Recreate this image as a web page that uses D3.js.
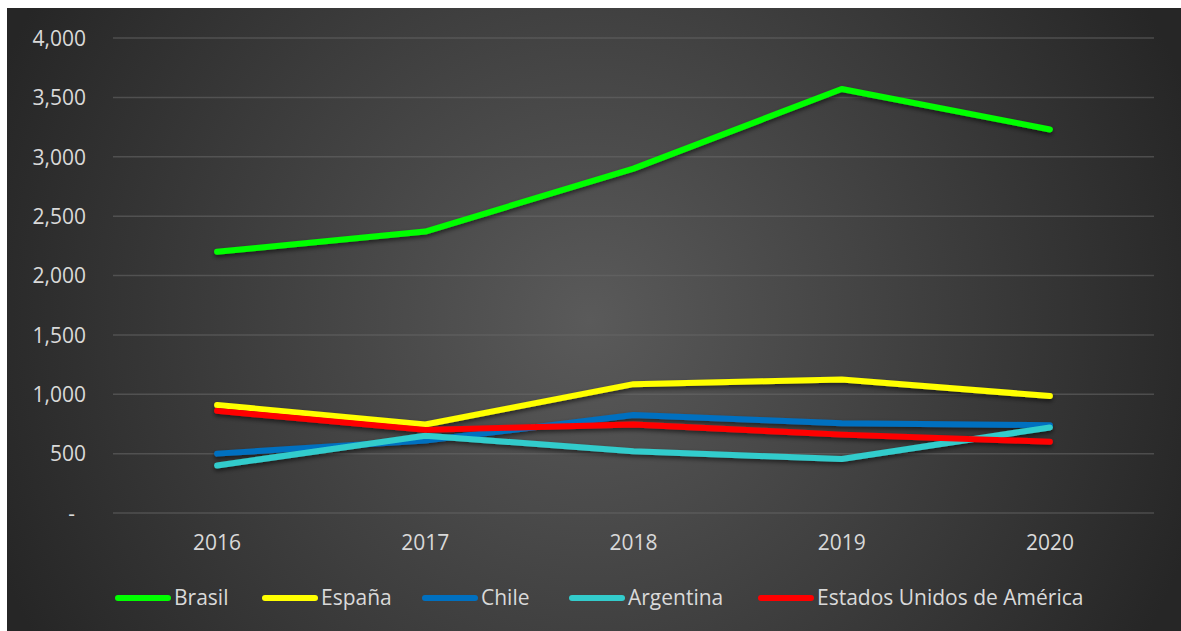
<!DOCTYPE html>
<html>
<head>
<meta charset="utf-8">
<script src="https://cdn.jsdelivr.net/npm/d3@7"></script>
<style>
  html, body { margin: 0; padding: 0; background: #ffffff; }
  svg { display: block; }
</style>
</head>
<body>
<svg id="chart" width="1181" height="631"></svg>
<script>
// Years on the category axis
const years = ["2016", "2017", "2018", "2019", "2020"];

// One array of yearly values per country
const brasil    = [2200, 2370, 2900, 3570, 3230];
const espana    = [910, 745, 1085, 1125, 985];
const chile     = [500, 610, 825, 755, 740];
const argentina = [400, 650, 520, 455, 720];
const eua       = [860, 700, 745, 660, 600];

const seriesNames  = ["Brasil", "España", "Chile", "Argentina", "Estados Unidos de América"];
const seriesColors = ["#00ff00", "#ffff00", "#0070c0", "#33cccc", "#ff0000"];
const seriesValues = [brasil, espana, chile, argentina, eua];

// Value axis ticks
const yTicks = [0, 500, 1000, 1500, 2000, 2500, 3000, 3500, 4000];

const W = 1181, H = 631;
const svg = d3.select("#chart");
const defs = svg.append("defs");

// Dark radial background
const grad = defs.append("radialGradient")
  .attr("id", "bg").attr("gradientUnits", "userSpaceOnUse")
  .attr("cx", 590).attr("cy", 320).attr("r", 640);
grad.append("stop").attr("offset", "0%").attr("stop-color", "#5a5a5a");
grad.append("stop").attr("offset", "100%").attr("stop-color", "#262626");

// Soft shadow under the lines
const shadow = defs.append("filter").attr("id", "shadow")
  .attr("x", "-10%").attr("y", "-30%").attr("width", "120%").attr("height", "160%");
shadow.append("feDropShadow")
  .attr("dx", 0).attr("dy", 2.5).attr("stdDeviation", 2.2)
  .attr("flood-color", "#000").attr("flood-opacity", 0.55);

svg.append("rect").attr("x", 7).attr("y", 8).attr("width", W - 7).attr("height", H - 8)
  .attr("fill", "url(#bg)");

const plot = { left: 113, right: 1154, top: 38, bottom: 513 };

const x = d3.scaleBand().domain(years).range([plot.left, plot.right]);
const y = d3.scaleLinear().domain([0, 4000]).range([plot.bottom, plot.top]);

const font = "'Open Sans', 'DejaVu Sans', sans-serif";
const textColor = "#d9d9d9";
const fontSize = 21;

// Horizontal gridlines
svg.append("g")
  .selectAll("line").data(yTicks).join("line")
  .attr("x1", plot.left).attr("x2", plot.right)
  .attr("y1", d => y(d)).attr("y2", d => y(d))
  .attr("stroke", "#6a6a6a").attr("stroke-opacity", 0.55).attr("stroke-width", 1.5);

// Value axis labels
const fmt = d3.format(",");
const yAxis = d3.axisLeft(y).tickValues(yTicks).tickSize(0).tickPadding(0)
  .tickFormat(d => d === 0 ? "-" : fmt(d));
const gy = svg.append("g").attr("transform", "translate(86,0)").call(yAxis);
gy.select(".domain").remove();
gy.selectAll("text")
  .attr("fill", textColor).attr("font-family", font).attr("font-size", fontSize)
  .attr("dy", "0.35em")
  .attr("dx", d => d === 0 ? -11 : 0);

// Category axis labels
const xAxis = d3.axisBottom(x).tickSize(0).tickPadding(0);
const gx = svg.append("g").attr("transform", "translate(0,535)").call(xAxis);
gx.select(".domain").remove();
gx.selectAll("text")
  .attr("fill", textColor).attr("font-family", font).attr("font-size", fontSize)
  .attr("dy", "0.71em");

// Series lines
const line = d3.line()
  .x((d, i) => x(years[i]) + x.bandwidth() / 2)
  .y(d => y(d));

svg.append("g").attr("filter", "url(#shadow)")
  .selectAll("path").data(seriesValues).join("path")
  .attr("d", d => line(d))
  .attr("fill", "none")
  .attr("stroke", (d, i) => seriesColors[i])
  .attr("stroke-width", 6)
  .attr("stroke-linecap", "round")
  .attr("stroke-linejoin", "round");

// Legend
const legendX = [118, 265, 425, 572, 761];
const legendY = 598;
const lg = svg.append("g").selectAll("g").data(seriesNames).join("g")
  .attr("transform", (d, i) => `translate(${legendX[i]},${legendY})`);
lg.append("line")
  .attr("x1", 0).attr("x2", 50).attr("y1", 0).attr("y2", 0)
  .attr("stroke", (d, i) => seriesColors[i])
  .attr("stroke-width", 6).attr("stroke-linecap", "round");
lg.append("text")
  .attr("x", 56).attr("y", 0).attr("dy", "0.35em")
  .attr("fill", textColor).attr("font-family", font).attr("font-size", fontSize)
  .text(d => d);
</script>
</body>
</html>
